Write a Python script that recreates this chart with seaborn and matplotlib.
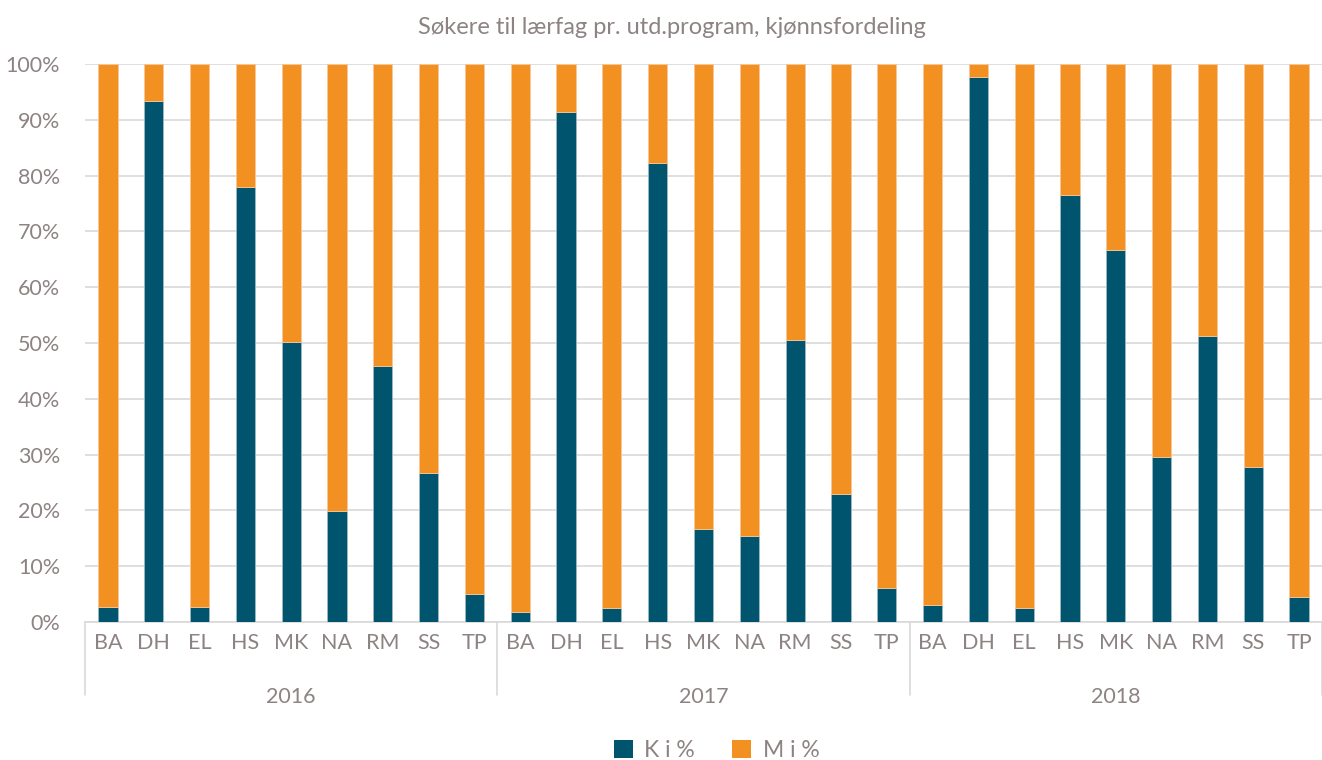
import numpy as np
import pandas as pd
import matplotlib
matplotlib.use("Agg")
import matplotlib.pyplot as plt
import seaborn as sns
from matplotlib.patches import Patch
from matplotlib.lines import Line2D

years = ["2016", "2017", "2018"]
programs = ["BA", "DH", "EL", "HS", "MK", "NA", "RM", "SS", "TP"]
k_2016 = [2.6, 93.4, 2.6, 78.0, 50.2, 19.9, 45.9, 26.7, 5.0]
k_2017 = [1.8, 91.4, 2.5, 82.3, 16.7, 15.4, 50.5, 22.9, 6.1]
k_2018 = [3.1, 97.7, 2.5, 76.5, 66.7, 29.6, 51.3, 27.8, 4.4]
k_values = [k_2016, k_2017, k_2018]

rows = []
for y, kv in zip(years, k_values):
    for p, k in zip(programs, kv):
        rows.append({"key": f"{y}-{p}", "year": y, "prog": p, "K": k, "M": 100 - k})
df = pd.DataFrame(rows)
order = list(df["key"])

BLUE = "#00546E"
ORANGE = "#F39022"
TXT = "#8C8382"
GRID = "#D9D9D9"

sns.set_theme(style="white")
plt.rcParams["font.family"] = ["Lato", "DejaVu Sans"]

fig = plt.figure(figsize=(13.22, 7.6), dpi=100)
ax = fig.add_axes([85 / 1322, (760 - 622) / 760, (1322 - 85) / 1322, (622 - 64) / 760])

sns.barplot(data=df, x="key", y="K", order=order, color=BLUE, width=0.42,
            saturation=1, ax=ax, edgecolor="#9fb8c2", linewidth=0.6, zorder=3)
sns.barplot(data=df, x="key", y="M", order=order, color=ORANGE, width=0.42,
            saturation=1, ax=ax, bottom=df["K"].values, edgecolor="#f7c89a",
            linewidth=0.6, zorder=3)

ax.set_ylim(0, 100)
ax.set_xlim(-0.5, len(order) - 0.5)
ax.set_yticks(np.arange(0, 101, 10))
ax.set_yticklabels([f"{v}%" for v in range(0, 101, 10)], color=TXT, fontsize=15.5)
ax.yaxis.grid(True, color=GRID, linewidth=1.2, zorder=0)
ax.set_axisbelow(True)
ax.set_xticks(range(len(order)))
ax.set_xticklabels(list(df["prog"]), color=TXT, fontsize=15.5)
ax.tick_params(axis="x", length=0, pad=8)
ax.tick_params(axis="y", length=0, pad=18)
ax.set_xlabel("")
ax.set_ylabel("")
for s in ["top", "right", "left"]:
    ax.spines[s].set_visible(False)
ax.spines["bottom"].set_color(GRID)
ax.spines["bottom"].set_linewidth(1.2)

# group separators and year labels
trans = ax.get_xaxis_transform()
n = len(programs)
for i in range(len(years) + 1):
    xpos = i * n - 0.5
    ax.add_line(Line2D([xpos, xpos], [0, -0.13], transform=trans, color=GRID,
                       linewidth=1.2, clip_on=False))
for i, y in enumerate(years):
    ax.text(i * n + (n - 1) / 2, -0.135, y, transform=trans, ha="center", va="center",
            color=TXT, fontsize=15.5)

fig.text(0.508, 0.964, "Søkere til lærfag pr. utd.program, kjønnsfordeling",
         ha="center", va="center", color=TXT, fontsize=17)

handles = [Patch(facecolor=BLUE, edgecolor="none", label="K i %"),
           Patch(facecolor=ORANGE, edgecolor="none", label="M i %")]
leg = fig.legend(handles=handles, loc="center", bbox_to_anchor=(0.542, 0.013),
                 ncol=2, frameon=False, fontsize=16.5, handlelength=0.85, handleheight=0.85,
                 columnspacing=1.6, handletextpad=0.5)
for t in leg.get_texts():
    t.set_color(TXT)

fig.savefig("out.png", dpi=100)
